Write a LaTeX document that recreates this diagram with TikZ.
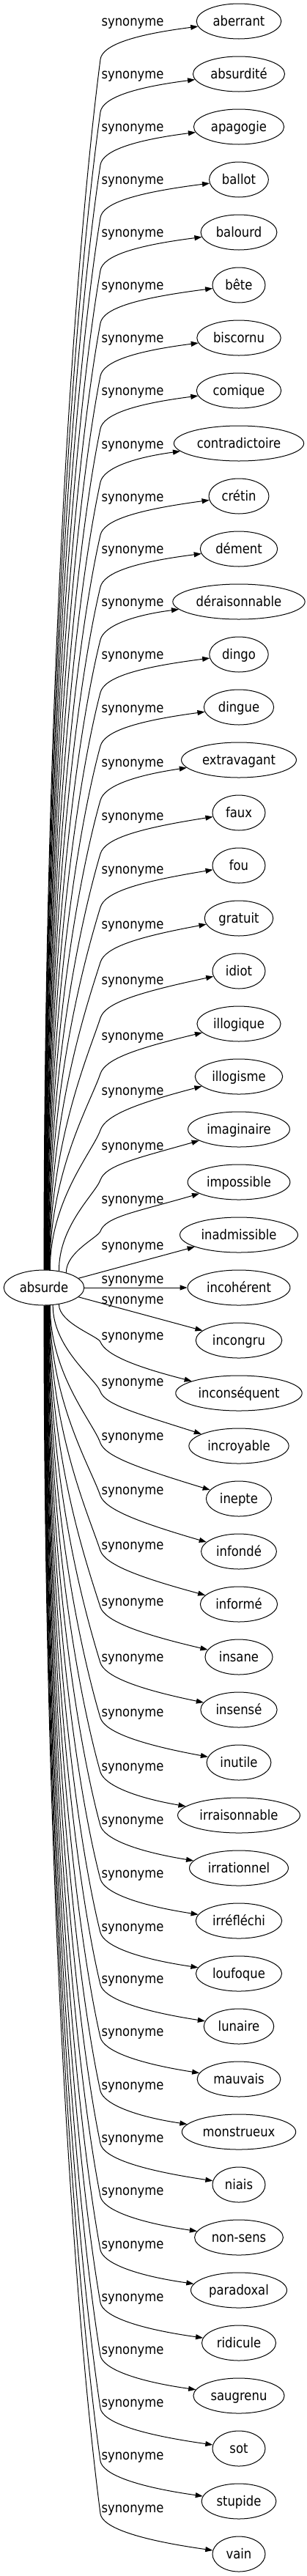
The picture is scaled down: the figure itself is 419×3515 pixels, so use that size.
\documentclass[tikz,border=0pt]{standalone}
\usepackage{fontspec}
\newfontfamily\gvfamily{DejaVu Sans}[FakeStretch=0.88]
\newcommand\gvfont{\gvfamily\fontsize{18.67pt}{22pt}\selectfont}
\usetikzlibrary{arrows.meta,shapes.geometric}
\begin{document}
\begin{tikzpicture}[x=1pt,y=-1pt,
  word/.style={draw,ellipse,line width=1pt,minimum width=72pt,minimum height=48pt,
    inner xsep=5.5pt,inner ysep=2pt,text height=14pt,text depth=1.2pt,font=\gvfont},
  lab/.style={inner sep=0pt,text height=14pt,text depth=1.2pt,font=\gvfont},
  link/.style={line width=1pt,-{Triangle[length=10pt,width=7pt]}}]
\useasboundingbox (0,0) rectangle (419,3515);
\node[word] (absurde) at (60,1757) {absurde};
\foreach \i/\word in {0/aberrant,1/absurdité,2/apagogie,3/ballot,4/balourd,5/bête,
  6/biscornu,7/comique,8/contradictoire,9/crétin,10/dément,11/déraisonnable,
  12/dingo,13/dingue,14/extravagant,15/faux,16/fou,17/gratuit,18/idiot,
  19/illogique,20/illogisme,21/imaginaire,22/impossible,23/inadmissible,
  24/incohérent,25/incongru,26/inconséquent,27/incroyable,28/inepte,
  29/infondé,30/informé,31/insane,32/insensé,33/inutile,34/irraisonnable,
  35/irrationnel,36/irréfléchi,37/loufoque,38/lunaire,39/mauvais,
  40/monstrueux,41/niais,42/non-sens,43/paradoxal,44/ridicule,45/saugrenu,
  46/sot,47/stupide,48/vain}
  \node[word] (n\i) at (326,{29+72*\i}) {\word};
\foreach \i/\ly/\xs/\ao in {0/29/60/52,1/101/60.4/52,2/173/60.8/52,3/245/61.2/52,
  4/317/61.6/52,5/389/62/52,6/461/62.4/52,7/533/62.8/52,8/606/63.2/52,
  9/678/63.6/52,10/749/64/52,11/821/64.4/52,12/893/64.8/52,13/966/65.2/52,
  14/1040/65.6/52,15/1113/66/52,16/1186/66.4/52,17/1261/66.8/52,
  18/1337/67.2/52,19/1413/67.6/52,20/1488/68/54,21/1563/80/47,22/1636/90/44,
  23/1699/0/0,24/1745/0/0,25/1773/0/0,
  26/1822/80/9,27/1885/72/14,28/1959/68/10,29/2033/67.6/8,30/2108/67.2/8,
  31/2185/66.8/8,32/2261/66.4/8,33/2336/66/8,34/2410/65.6/8,35/2483/65.2/8,
  36/2556/64.8/8,37/2629/64.4/8,38/2700/64/8,39/2772/63.6/8,40/2845/63.2/8,
  41/2917/62.8/8,42/2989/62.4/8,43/3062/62/8,44/3134/61.6/8,45/3206/61.2/8,
  46/3278/60.8/8,47/3350/60.4/8,48/3422/60/8}{
  \node[lab] (l\i) at (181,\ly) {synonyme};
  \ifnum\i<23
    \pgfmathsetmacro\mydx{\xs-60}
    \pgfmathsetmacro\myhy{24*sqrt(1-(\mydx/55)^2)}
    \pgfmathtruncatemacro\myang{round(atan2(\myhy,\mydx))}
    \pgfmathsetmacro\mysy{1757-\myhy}
    \pgfmathsetmacro\myay{\ly+\ao}
    \pgfmathsetmacro\myD{\mysy-\myay}
    \pgfmathsetmacro\mys{0.13+0.25*(1-\myD/1650)}
    \pgfmathsetmacro\myk{0.15*\myD}
    \pgfmathsetmacro\myca{\mysy-0.5*\myD}
    \pgfmathsetmacro\mycbx{137-\mys*\myk}
    \pgfmathsetmacro\mycby{\myay+\myk}
    \pgfmathsetmacro\myccx{137+20*\mys}
    \pgfmathsetmacro\myccy{\myay-20}
    \pgfmathsetmacro\mycdy{\ly+18}
    \draw[link] (absurde.\myang) .. controls (\xs,\myca) and (\mycbx,\mycby) ..
      (137,\myay) .. controls (\myccx,\myccy) and (185,\mycdy) .. (n\i);
  \else\ifnum\i<26
    \draw[link] (absurde) -- (n\i);
  \else
    \pgfmathsetmacro\mydx{\xs-60}
    \pgfmathsetmacro\myhy{24*sqrt(1-(\mydx/55)^2)}
    \pgfmathtruncatemacro\myang{-round(atan2(\myhy,\mydx))}
    \pgfmathsetmacro\mysy{1757+\myhy}
    \pgfmathsetmacro\myay{\ly+\ao}
    \pgfmathsetmacro\myD{\myay-\mysy}
    \pgfmathsetmacro\mys{0.13+0.25*(1-\myD/1650)}
    \pgfmathsetmacro\myk{0.15*\myD}
    \pgfmathsetmacro\myca{\mysy+0.5*\myD}
    \pgfmathsetmacro\mycbx{137-\mys*\myk}
    \pgfmathsetmacro\mycby{\myay-\myk}
    \pgfmathsetmacro\myccx{137+20*\mys}
    \pgfmathsetmacro\myccy{\myay+18}
    \pgfmathsetmacro\mycdy{\ly+43}
    \draw[link] (absurde.\myang) .. controls (\xs,\myca) and (\mycbx,\mycby) ..
      (137,\myay) .. controls (\myccx,\myccy) and (185,\mycdy) .. (n\i);
  \fi\fi
}
\end{tikzpicture}
\end{document}
